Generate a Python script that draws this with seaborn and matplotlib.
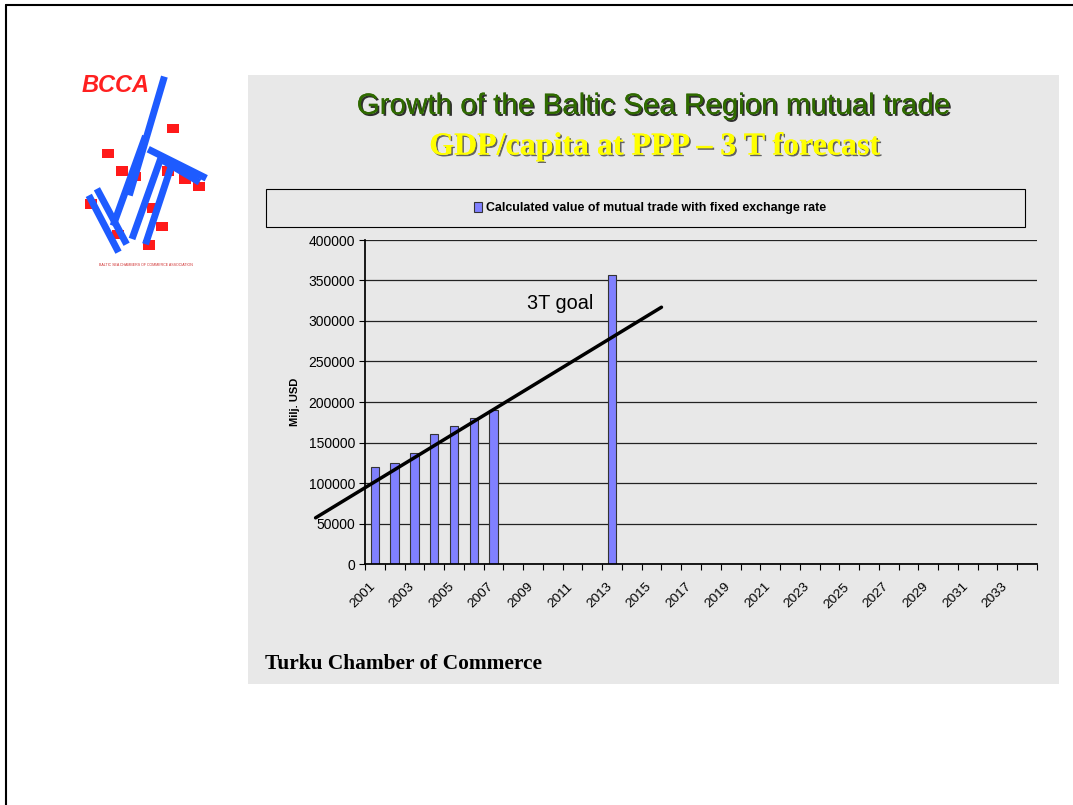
import numpy as np
import pandas as pd
import seaborn as sns
import matplotlib.pyplot as plt
import matplotlib.patheffects as pe
import matplotlib.transforms as mtransforms
from matplotlib.patches import Rectangle
from matplotlib.lines import Line2D

# data
all_years = [str(y) for y in range(2001, 2035)]
bar_years = ["2001", "2002", "2003", "2004", "2005", "2006", "2007", "2013"]
bar_values = [120000, 125000, 137000, 161000, 170000, 180000, 190000, 357000]
goal_years = [1998, 2015.5]
goal_values = [57000, 317000]
y_ticks = [0, 50000, 100000, 150000, 200000, 250000, 300000, 350000, 400000]

df = pd.DataFrame({"year": bar_years, "value": bar_values})

sns.set_theme(style="white")
plt.rcParams["font.family"] = ["Liberation Sans", "DejaVu Sans"]
plt.rcParams["text.color"] = "black"

W, H = 1073, 805
fig = plt.figure(figsize=(W / 100, H / 100), dpi=100)
fig.patch.set_facecolor("white")


def fx(px):
    return px / W


def fy(py):
    return 1 - py / H


# slide border and grey panel
fig.add_artist(Line2D([fx(6), 1], [fy(5), fy(5)], color="black", lw=1.5))
fig.add_artist(Line2D([fx(6), fx(6)], [fy(5), 0], color="black", lw=1.5))
fig.add_artist(Rectangle((fx(248), fy(684)), fx(1059 - 248), (684 - 75) / H,
                         transform=fig.transFigure, facecolor="#E8E8E8",
                         edgecolor="none", zorder=0))

# titles
shadow = [pe.withSimplePatchShadow(offset=(1.3, -1.3), shadow_rgbFace="black", alpha=0.8), pe.Normal()]
fig.text(fx(654), fy(106), "Growth of the Baltic Sea Region mutual trade",
         ha="center", va="center", fontsize=21.3, color="#2F6A00",
         path_effects=shadow)
fig.text(fx(655), fy(147), "GDP/capita at PPP – 3 T forecast",
         ha="center", va="center", fontsize=23, color="#FFFF00", fontweight="bold",
         family=["Liberation Serif", "DejaVu Serif"],
         path_effects=[pe.withSimplePatchShadow(offset=(1.2, -1.2), shadow_rgbFace="#555555", alpha=0.9), pe.Normal()])

# legend box
fig.add_artist(Rectangle((fx(266), fy(227)), fx(1025 - 266), (227 - 189) / H,
                         transform=fig.transFigure, facecolor="#E8E8E8",
                         edgecolor="black", lw=0.8, zorder=1))

# main chart
ax = fig.add_axes([fx(365), fy(564), fx(1037 - 365), (564 - 240) / H])
ax.set_facecolor("none")
sns.barplot(data=df, x="year", y="value", order=all_years, color="#8080FF",
            saturation=1, width=0.42, edgecolor="#333333", linewidth=0.8,
            label="Calculated value of mutual trade with fixed exchange rate", ax=ax)
handles, labels = ax.get_legend_handles_labels()
if ax.get_legend() is not None:
    ax.get_legend().remove()

ax.set_ylim(0, 400000)
ax.set_xlim(-0.5, len(all_years) - 0.5)
ax.set_yticks(y_ticks)
ax.set_yticklabels([str(v) for v in y_ticks], fontsize=10, color="black")
ax.yaxis.grid(True, color="#222222", lw=0.9)
ax.set_axisbelow(True)
for s in ["top", "right"]:
    ax.spines[s].set_visible(False)
ax.spines["left"].set_color("black")
ax.spines["bottom"].set_color("black")
ax.tick_params(axis="y", which="major", left=True, length=4, width=0.8, color="black", pad=3)

# x ticks: marks at category boundaries, labels every other year
pos = np.arange(len(all_years))
ax.set_xticks(pos[::2])
ax.set_xticklabels(all_years[::2], rotation=45, ha="right", rotation_mode="anchor",
                   fontsize=9.7, color="black")
ax.set_xticks(np.arange(len(all_years) + 1) - 0.5, minor=True)
ax.tick_params(axis="x", which="major", bottom=False, pad=6)
ax.tick_params(axis="x", which="minor", bottom=True, length=4, width=0.8, color="black")
shift = mtransforms.ScaledTranslation(-0.06, 0, fig.dpi_scale_trans)
for lab in ax.get_xticklabels():
    lab.set_transform(lab.get_transform() + shift)
ax.set_xlabel("")
ax.set_ylabel("Milj. USD", fontsize=8, fontweight="bold", labelpad=6, color="black")

# 3T goal line
gx = [y - 2001 for y in goal_years]
ax.plot(gx, goal_values, color="black", lw=2.5, clip_on=False, zorder=5)
ax.text(9.4, 322000, "3T goal", fontsize=14.3, ha="center", va="center", color="black")

fig.legend(handles, labels, loc="center", bbox_to_anchor=(fx(650), fy(208)),
           frameon=False, prop={"size": 8.9, "weight": "bold"},
           handlelength=0.7, handleheight=0.9, handletextpad=0.3)

# footer
fig.text(fx(265), fy(664), "Turku Chamber of Commerce", ha="left", va="center",
         fontsize=15.4, fontweight="bold", color="black",
         family=["Liberation Serif", "DejaVu Serif"])

# BCCA logo (approximation)
lg = fig.add_axes([fx(78), fy(268), fx(135), (268 - 70) / H])
lg.set_xlim(0, 100)
lg.set_ylim(0, 150)
lg.axis("off")
lg.text(3, 138, "BCCA", color="#FF2020", fontsize=17, fontweight="bold", style="italic",
        va="center", ha="left")
blue = "#1E5BFF"
for x0, y0, x1, y1 in [(64, 145, 38, 55), (50, 100, 26, 32), (62, 85, 40, 22),
                       (70, 80, 50, 18), (14, 60, 36, 18), (8, 55, 30, 12),
                       (52, 90, 95, 68), (62, 82, 90, 65)]:
    lg.plot([x0, x1], [y0, y1], color=blue, lw=5, solid_capstyle="butt")
red = "#FF1A1A"
for rx, ry in [(66, 102), (18, 83), (28, 70), (62, 70), (75, 64), (85, 58),
               (51, 42), (58, 28), (5, 45), (25, 22), (48, 14), (38, 66)]:
    lg.add_patch(Rectangle((rx, ry), 9, 7, color=red, lw=0))
lg.text(50, 2, "BALTIC SEA CHAMBERS OF COMMERCE ASSOCIATION", fontsize=2.6,
        color="#D03030", ha="center", va="center")

fig.savefig("out.png", dpi=100, facecolor="white")
